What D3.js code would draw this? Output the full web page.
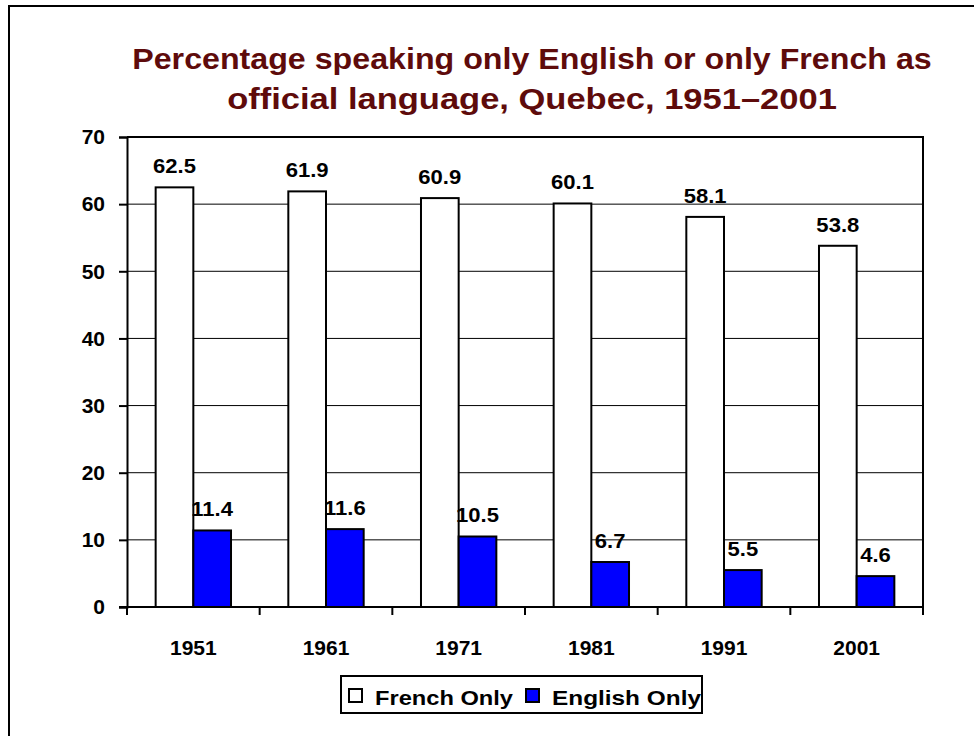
<!DOCTYPE html>
<html>
<head>
<meta charset="utf-8">
<script src="https://cdn.jsdelivr.net/npm/d3@7"></script>
<style>
  body { margin: 0; background: #fff; }
  text { font-family: Arial, "Liberation Sans", sans-serif; font-weight: bold; }
</style>
</head>
<body>
<script>
// chart data
var years      = ["1951", "1961", "1971", "1981", "1991", "2001"];
var frenchOnly = [62.5, 61.9, 60.9, 60.1, 58.1, 53.8];
var englishOnly = [11.4, 11.6, 10.5, 6.7, 5.5, 4.6];
var seriesNames = ["French Only", "English Only"];
var seriesColors = ["#ffffff", "#0000ff"];
var yTicks = [0, 10, 20, 30, 40, 50, 60, 70];
var titleLines = ["Percentage speaking only English or only French as",
                  "official language, Quebec, 1951\u20132001"];

var W = 974, H = 736;
var plot = {left: 127, right: 923, top: 137, bottom: 607};

var svg = d3.select("body").append("svg")
    .attr("width", W)
    .attr("height", H);

// the original font is a little wider than Arial: squeeze/stretch a text
// horizontally around its anchor so it covers the given width
function fitWidth(sel, width) {
  sel.each(function() {
    var t = d3.select(this);
    var w = this.getComputedTextLength();
    var ax = +t.attr("x");
    var s = width / w;
    t.attr("transform", "translate(" + ax + ",0) scale(" + s + ",1) translate(" + (-ax) + ",0)");
  });
}

// outer frame, runs off the right and bottom edges
svg.append("rect")
    .attr("x", 9).attr("y", 6)
    .attr("width", W + 20).attr("height", H + 20)
    .attr("fill", "none")
    .attr("stroke", "#000")
    .attr("stroke-width", 2);

// title
var titleWidths = [800, 610];
svg.append("g").selectAll("text")
    .data(titleLines)
  .enter().append("text")
    .attr("x", 532)
    .attr("y", function(d, i) { return 69 + i * 40; })
    .attr("text-anchor", "middle")
    .attr("fill", "#5e0b0b")
    .style("font-size", "29px")
    .text(function(d) { return d; })
    .each(function(d, i) { fitWidth(d3.select(this), titleWidths[i]); });

var x = d3.scaleBand()
    .domain(years)
    .range([plot.left, plot.right]);

var y = d3.scaleLinear()
    .domain([0, 70])
    .range([plot.bottom, plot.top]);

var barW = x.bandwidth() * 0.284;

// gridlines
svg.append("g").selectAll("line")
    .data(yTicks.filter(function(d) { return d > 0 && d < 70; }))
  .enter().append("line")
    .attr("x1", plot.left).attr("x2", plot.right)
    .attr("y1", function(d) { return y(d); })
    .attr("y2", function(d) { return y(d); })
    .attr("stroke", "#000")
    .attr("stroke-width", 1);

// bars
var rows = years.map(function(yr, i) {
  return {year: yr, values: [frenchOnly[i], englishOnly[i]]};
});

var groups = svg.append("g").selectAll("g")
    .data(rows)
  .enter().append("g");

groups.selectAll("rect")
    .data(function(d) { return d.values.map(function(v, k) { return {year: d.year, v: v, k: k}; }); })
  .enter().append("rect")
    .attr("x", function(d) { return x(d.year) + x.bandwidth() / 2 + (d.k - 1) * barW; })
    .attr("y", function(d) { return y(d.v); })
    .attr("width", barW)
    .attr("height", function(d) { return y(0) - y(d.v); })
    .attr("fill", function(d) { return seriesColors[d.k]; })
    .attr("stroke", "#000")
    .attr("stroke-width", 2);

groups.selectAll("text")
    .data(function(d) { return d.values.map(function(v, k) { return {year: d.year, v: v, k: k}; }); })
  .enter().append("text")
    .attr("x", function(d) { return x(d.year) + x.bandwidth() / 2 + (d.k - 0.5) * barW; })
    .attr("y", function(d) { return y(d.v) - 14; })
    .attr("text-anchor", "middle")
    .style("font-size", "21px")
    .text(function(d) { return d3.format(".1f")(d.v); })
    .each(function() { fitWidth(d3.select(this), this.getComputedTextLength() * 1.05); });

// plot frame (top and right)
svg.append("path")
    .attr("d", "M" + plot.left + "," + plot.top + "H" + plot.right + "V" + plot.bottom)
    .attr("fill", "none")
    .attr("stroke", "#000")
    .attr("stroke-width", 2);

// y axis
var yAxis = svg.append("g")
    .attr("transform", "translate(" + plot.left + ",0)")
    .call(d3.axisLeft(y).tickValues(yTicks).tickSize(8).tickPadding(14));
yAxis.select(".domain").attr("stroke-width", 2);
yAxis.selectAll(".tick line").attr("stroke-width", 2);
yAxis.selectAll(".tick text")
    .style("font-size", "21px")
    .attr("font-family", null);

// x axis with ticks between categories
var boundaries = d3.range(years.length + 1).map(function(i) { return plot.left + i * x.step(); });
svg.append("line")
    .attr("x1", plot.left - 8).attr("x2", plot.right)
    .attr("y1", plot.bottom).attr("y2", plot.bottom)
    .attr("stroke", "#000").attr("stroke-width", 2);
svg.append("g").selectAll("line")
    .data(boundaries)
  .enter().append("line")
    .attr("x1", function(d) { return d; }).attr("x2", function(d) { return d; })
    .attr("y1", plot.bottom).attr("y2", plot.bottom + 8)
    .attr("stroke", "#000").attr("stroke-width", 2);
svg.append("g").selectAll("text")
    .data(years)
  .enter().append("text")
    .attr("x", function(d) { return x(d) + x.bandwidth() / 2; })
    .attr("y", 655)
    .attr("text-anchor", "middle")
    .style("font-size", "21px")
    .text(function(d) { return d; });

// legend
var legend = svg.append("g");
legend.append("rect")
    .attr("x", 341).attr("y", 676)
    .attr("width", 361).attr("height", 37)
    .attr("fill", "#fff")
    .attr("stroke", "#000")
    .attr("stroke-width", 2);
var legX = [349, 526];
var legWidths = [138, 149];
seriesNames.forEach(function(name, i) {
  legend.append("rect")
      .attr("x", legX[i]).attr("y", 689)
      .attr("width", 13).attr("height", 13)
      .attr("fill", seriesColors[i])
      .attr("stroke", "#000")
      .attr("stroke-width", 2);
  legend.append("text")
      .attr("x", legX[i] + 26)
      .attr("y", 705)
      .style("font-size", "21px")
      .text(name)
      .call(fitWidth, legWidths[i]);
});
</script>
</body>
</html>
